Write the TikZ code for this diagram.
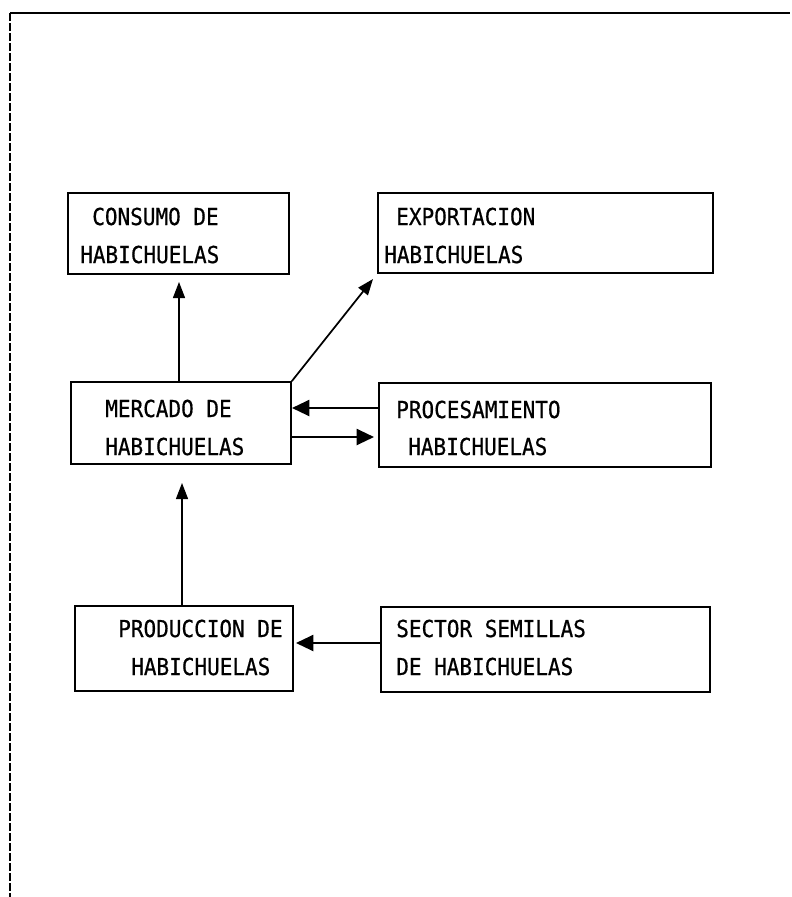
\documentclass[tikz,border=0pt]{standalone}
\usepackage{fontspec}
\newfontfamily\diafont[FakeStretch=0.9,FakeBold=0.6]{DejaVu Sans Mono}
\usetikzlibrary{arrows.meta,fit}
\begin{document}
\begin{tikzpicture}[x=0.75pt,y=-0.75pt,
  box/.style={draw, line width=1.2pt, inner sep=0pt},
  lbl/.style={anchor=base west, inner sep=0pt, font=\diafont\fontsize{17.5pt}{20pt}\selectfont},
  arr/.style={-{Triangle[length=12pt,width=9pt]}, line width=1pt},
  harr/.style={-{Triangle[length=13pt,width=12pt]}, line width=1.6pt}
]
\useasboundingbox (0,0) rectangle (792,897);
% frame
\coordinate (fTL) at (10,13);
\coordinate (fTR) at (790,13);
\coordinate (fBL) at (10,897);
\draw[line width=1.4pt] (fTL) -- (fTR);
\draw[line width=1pt, dash pattern=on 6pt off 1.5pt] (fTL) -- (fBL);

% boxes
\node[box, fit={(68,193) (289,274)}] (cons) {};
\node[box, fit={(378,193) (713,273)}] (expo) {};
\node[box, fit={(71,382) (291,464)}] (merc) {};
\node[box, fit={(379,383) (711,467)}] (proc) {};
\node[box, fit={(75,606) (293,691)}] (prod) {};
\node[box, fit={(381,607) (710,692)}] (sect) {};

% texts
\node[lbl] (cons1) at (92,225) {CONSUMO DE};
\node[lbl] (cons2) at (80,263) {HABICHUELAS};
\node[lbl] (expo1) at (396,225) {EXPORTACION};
\node[lbl] (expo2) at (384,263) {HABICHUELAS};
\node[lbl] (merc1) at (105,417) {MERCADO DE};
\node[lbl] (merc2) at (105,455) {HABICHUELAS};
\node[lbl] (proc1) at (396,418) {PROCESAMIENTO};
\node[lbl] (proc2) at (408,455) {HABICHUELAS};
\node[lbl] (prod1) at (118,637) {PRODUCCION DE};
\node[lbl] (prod2) at (131,675) {HABICHUELAS};
\node[lbl] (sect1) at (396,637) {SECTOR SEMILLAS};
\node[lbl] (sect2) at (396,675) {DE HABICHUELAS};

% arrow tips
\coordinate (t1) at (179,282);
\coordinate (t2) at (373,279);
\coordinate (t3) at (292,408);
\coordinate (t4) at (374,437);
\coordinate (t5) at (182,483);
\coordinate (t6) at (296,643);

\draw[arr] (merc.north -| t1) -- (t1);
\draw[arr, line width=1.3pt] (merc.north east) -- (t2);
\draw[harr] (proc.west |- t3) -- (t3);
\draw[harr] (merc.east |- t4) -- (t4);
\draw[arr] (prod.north -| t5) -- (t5);
\draw[harr] (sect.west |- t6) -- (t6);
\end{tikzpicture}
\end{document}
